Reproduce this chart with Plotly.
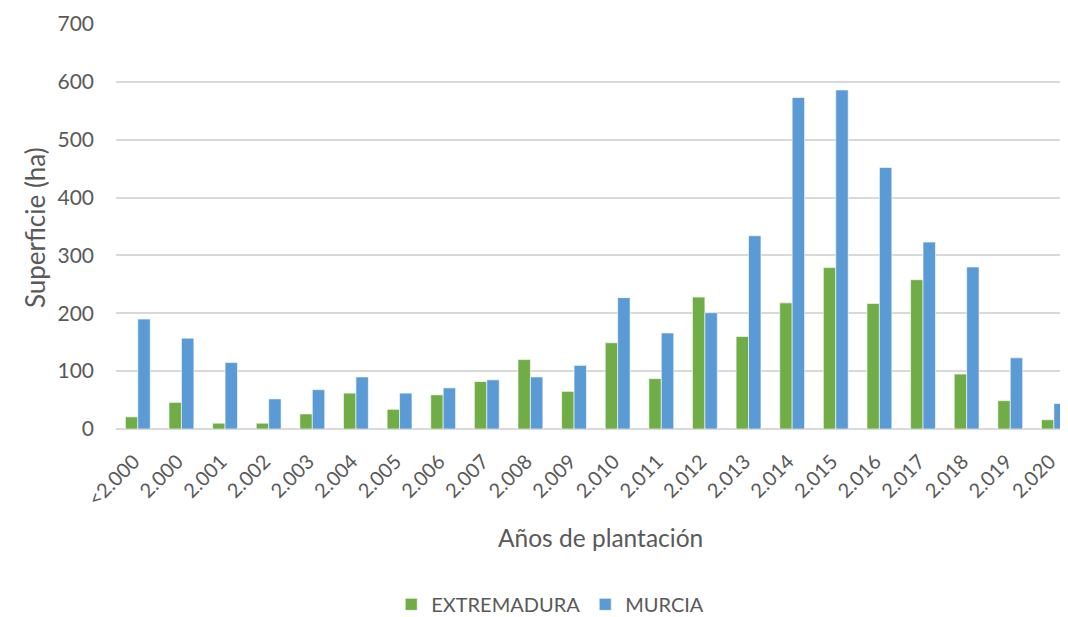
import plotly.graph_objects as go

categories = ["&lt;2.000", "2.000", "2.001", "2.002", "2.003", "2.004", "2.005", "2.006",
              "2.007", "2.008", "2.009", "2.010", "2.011", "2.012", "2.013", "2.014",
              "2.015", "2.016", "2.017", "2.018", "2.019", "2.020"]
extremadura = [21, 46, 10, 10, 26, 62, 34, 59, 82, 120, 65, 149, 87, 228, 160, 218,
               279, 217, 258, 95, 49, 16]
murcia = [190, 157, 115, 52, 68, 90, 62, 71, 85, 90, 110, 227, 166, 201, 334, 573,
          586, 452, 323, 280, 123, 44]

FONT = "Lato, 'Open Sans', sans-serif"
GREY = "#595959"

fig = go.Figure()
fig.add_trace(go.Bar(x=categories, y=extremadura, name="EXTREMADURA",
                     marker=dict(color="#70AD47", line=dict(color="rgba(255,255,255,0.6)", width=1))))
fig.add_trace(go.Bar(x=categories, y=murcia, name="MURCIA",
                     marker=dict(color="#5B9BD5", line=dict(color="rgba(255,255,255,0.6)", width=1))))

# page body has an 8px margin, so the figure is sized/offset to compensate
fig.update_layout(
    width=1052, height=609,
    margin=dict(l=108, r=0, t=16, b=188, autoexpand=False),
    paper_bgcolor="white", plot_bgcolor="white",
    barmode="group", bargap=0.43, bargroupgap=0,
    font=dict(family=FONT, color=GREY, size=20),
    showlegend=True,
    legend=dict(orientation="h", x=0.46, xanchor="center", y=-0.433, yanchor="middle",
                font=dict(size=20, color=GREY), itemwidth=30),
    xaxis=dict(type="category", range=[-0.5, 21.14], tickangle=-45, automargin=False,
               tickfont=dict(size=20, color=GREY), showgrid=False,
               showline=False, zeroline=False, ticks="",
               ticklabelstandoff=16, ticklabelshift=-4),
    yaxis=dict(range=[0, 700], dtick=100, showgrid=True, gridcolor="#d9d9d9", gridwidth=1.5,
               zeroline=True, zerolinecolor="#d9d9d9", zerolinewidth=1.5, automargin=False,
               tickfont=dict(size=21, color=GREY), ticklabelstandoff=21, showline=False),
    annotations=[
        dict(text="Años de plantación", x=0.513, y=-0.269, xref="paper", yref="paper",
             showarrow=False, font=dict(size=24.5, color=GREY), xanchor="center", yanchor="middle"),
        dict(text="Superficie (ha)", x=-0.0858, y=0.496, xref="paper", yref="paper",
             showarrow=False, textangle=-90, font=dict(size=26, color=GREY),
             xanchor="center", yanchor="middle"),
    ],
)

fig.write_html("out.html")
